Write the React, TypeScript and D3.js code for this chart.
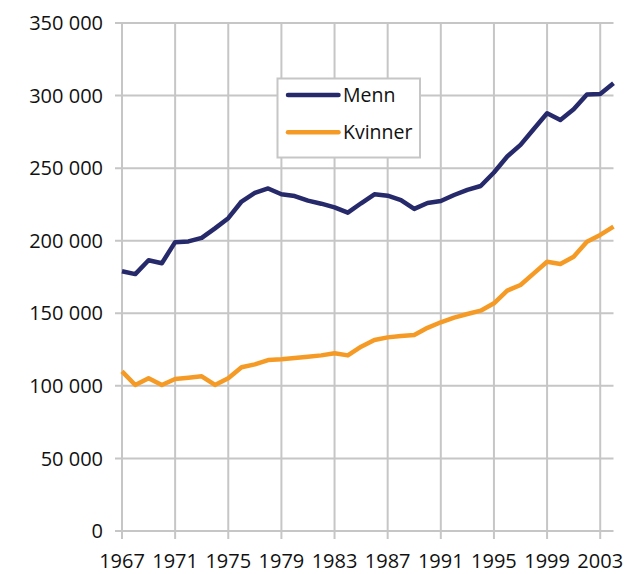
import React from "react";
import * as d3 from "d3";

const years: number[] = [];
for (let y = 1967; y <= 2004; y++) years.push(y);

const menn = [179000, 177000, 186500, 184500, 199000, 199500, 202000, 208500, 215500, 227000, 233000, 236000, 232000, 230800, 227600, 225500, 223000, 219300, 225800, 232000, 231000, 228000, 221900, 226000, 227400, 231500, 235000, 237700, 247000, 258000, 266000, 277000, 287800, 283200, 290500, 300800, 301100, 308500];
const kvinner = [110000, 100600, 105200, 100600, 104700, 105600, 106600, 100600, 105200, 112800, 114800, 117800, 118300, 119200, 120100, 121000, 122500, 121000, 127000, 131600, 133400, 134400, 135000, 140000, 143800, 147000, 149500, 151800, 156900, 165600, 169500, 177500, 185500, 184000, 189000, 199300, 204000, 209700];

const yTicks = [0, 50000, 100000, 150000, 200000, 250000, 300000, 350000];
const xTicks = [1967, 1971, 1975, 1979, 1983, 1987, 1991, 1995, 1999, 2003];
const seriesNames = ["Menn", "Kvinner"];
const colors = ["#262a6b", "#f59b25"];

const W = 631, H = 574;
const left = 122, right = 613.5, top = 23, bottom = 531;
const font = "'Open Sans', 'DejaVu Sans', sans-serif";
const grid = "#c6c6c6";

export default function App() {
  const x = d3.scaleLinear().domain([1967, 2004]).range([left, right]);
  const y = d3.scaleLinear().domain([0, 350000]).range([bottom, top]);
  const line = d3.line<number>().x((_, i) => x(years[i])).y((d) => y(d));
  const fmt = (v: number) => d3.format(",")(v).replace(/,/g, " ");
  const data = [menn, kvinner];
  return (
    <svg width={W} height={H} style={{ position: "absolute", left: 0, top: 0, background: "#fff" }}>
      {yTicks.map((t) => (
        <g key={t}>
          <line x1={left - 7} x2={right} y1={y(t)} y2={y(t)} stroke={grid} strokeWidth={2} />
          <text x={103} y={y(t)} dy="0.36em" textAnchor="end" fontFamily={font} fontSize={20} fill="#111">
            {fmt(t)}
          </text>
        </g>
      ))}
      {xTicks.map((t) => (
        <g key={t}>
          <line x1={x(t)} x2={x(t)} y1={top} y2={bottom + 8} stroke={grid} strokeWidth={2} />
          <text x={x(t)} y={568} textAnchor="middle" fontFamily={font} fontSize={20} fill="#111">
            {t}
          </text>
        </g>
      ))}
      {data.map((d, i) => (
        <path key={i} d={line(d) || ""} fill="none" stroke={colors[i]} strokeWidth={4.5} strokeLinejoin="round" />
      ))}
      <rect x={277.5} y={78.5} width={142.5} height={79} fill="#fff" stroke={grid} strokeWidth={2} />
      {seriesNames.map((n, i) => (
        <g key={n}>
          <line x1={288} x2={338.5} y1={95 + i * 37.3} y2={95 + i * 37.3} stroke={colors[i]} strokeWidth={4.5} strokeLinecap="round" />
          <text x={343} y={95 + i * 37.3} dy="0.36em" fontFamily={font} fontSize={19.5} fill="#111">
            {n}
          </text>
        </g>
      ))}
    </svg>
  );
}
